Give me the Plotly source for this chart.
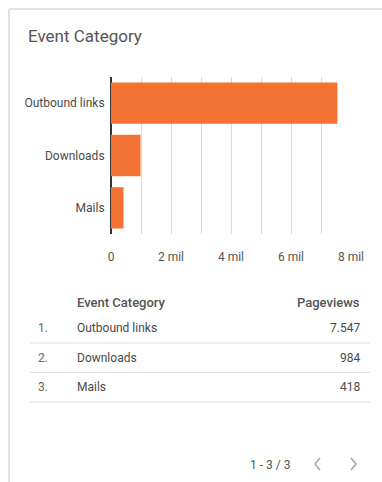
import plotly.graph_objects as go

# Event categories and their pageviews
categories = ["Outbound links", "Downloads", "Mails"]
pageviews = [7547, 984, 418]

# Axis ticks (labelled in Portuguese thousands)
tick_values = [0, 2000, 4000, 6000, 8000]
tick_labels = ["0", "2 mil", "4 mil", "6 mil", "8 mil"]
minor_values = [1000, 3000, 5000, 7000]

title_text = "Event Category"
table_headers = ["Event Category", "Pageviews"]
pager_text = "1 - 3 / 3"

W, H = 382, 482
FONT = "Roboto"
BAR = "#F37335"
TEXT = "#4a4a4a"
GREY = "#666666"
LINE = "#dedede"


def px(x):
    return x / W


def py(y):
    return 1 - y / H


fig = go.Figure(
    go.Bar(
        x=pageviews,
        y=categories,
        orientation="h",
        marker=dict(color=BAR, line=dict(width=0)),
        hoverinfo="x+y",
    )
)

annotations = [
    dict(text=title_text, x=px(26), y=py(36), xref="paper", yref="paper",
         xanchor="left", yanchor="middle", showarrow=False,
         font=dict(family=FONT, size=17, color="#555555")),
    dict(text=table_headers[0], x=px(75), y=py(302), xref="paper", yref="paper",
         xanchor="left", yanchor="middle", showarrow=False,
         font=dict(family=FONT, size=13, color="#555555", weight=500)),
    dict(text=table_headers[1], x=px(362), y=py(302), xref="paper", yref="paper",
         xanchor="right", yanchor="middle", showarrow=False,
         font=dict(family=FONT, size=13, color="#555555", weight=500)),
    dict(text=pager_text, x=px(270), y=py(465), xref="paper", yref="paper",
         xanchor="center", yanchor="middle", showarrow=False,
         font=dict(family=FONT, size=12, color="#555555")),
]

shapes = [
    # card outline (top and left edges)
    dict(type="line", xref="paper", yref="paper", x0=px(9), x1=1.0,
         y0=py(9), y1=py(9), line=dict(color="#e2e2e2", width=2)),
    dict(type="line", xref="paper", yref="paper", x0=px(9), x1=px(9),
         y0=py(9), y1=0, line=dict(color="#e2e2e2", width=2)),
    # pager chevrons
    dict(type="path", xref="paper", yref="paper",
         path=f"M {px(320)} {py(458)} L {px(315)} {py(464)} L {px(320)} {py(470)}",
         line=dict(color="#a8a8a8", width=1.6)),
    dict(type="path", xref="paper", yref="paper",
         path=f"M {px(351)} {py(458)} L {px(356)} {py(464)} L {px(351)} {py(470)}",
         line=dict(color="#a8a8a8", width=1.6)),
]

row_y0, row_step = 328, 29.5
for i, (cat, val) in enumerate(zip(categories, pageviews)):
    yc = row_y0 + i * row_step
    annotations += [
        dict(text=f"{i + 1}.", x=px(36), y=py(yc), xref="paper", yref="paper",
             xanchor="left", yanchor="middle", showarrow=False,
             font=dict(family=FONT, size=12, color=GREY)),
        dict(text=cat, x=px(75), y=py(yc), xref="paper", yref="paper",
             xanchor="left", yanchor="middle", showarrow=False,
             font=dict(family=FONT, size=12, color=TEXT)),
        dict(text=f"{val:,}".replace(",", "."), x=px(362), y=py(yc),
             xref="paper", yref="paper", xanchor="right", yanchor="middle",
             showarrow=False, font=dict(family=FONT, size=12, color=TEXT)),
    ]
    ly = yc + 15
    shapes.append(dict(type="line", xref="paper", yref="paper",
                       x0=px(30), x1=px(370), y0=py(ly), y1=py(ly),
                       line=dict(color=LINE, width=1)))

fig.update_layout(
    width=W, height=H,
    margin=dict(l=0, r=0, t=0, b=0, autoexpand=False),
    paper_bgcolor="white",
    plot_bgcolor="white",
    showlegend=False,
    bargap=0.21,
    font=dict(family=FONT, size=12, color=TEXT),
    annotations=annotations,
    shapes=shapes,
    xaxis=dict(
        domain=[px(111), px(351)],
        range=[0, 8000],
        automargin=False,
        tickmode="array",
        tickvals=tick_values,
        ticktext=tick_labels,
        showgrid=True,
        gridcolor="#dcdcdc",
        gridwidth=1,
        minor=dict(tickmode="array", tickvals=minor_values,
                   showgrid=True, gridcolor="#dcdcdc", gridwidth=1),
        zeroline=True,
        zerolinecolor="#333333",
        zerolinewidth=2,
        ticks="outside",
        ticklen=12,
        tickcolor="rgba(0,0,0,0)",
        tickfont=dict(family=FONT, size=12, color="#555555"),
        fixedrange=True,
    ),
    yaxis=dict(
        domain=[py(234), py(77)],
        autorange="reversed",
        automargin=False,
        showgrid=False,
        zeroline=False,
        ticks="outside",
        ticklen=3,
        tickcolor="rgba(0,0,0,0)",
        tickfont=dict(family=FONT, size=12, color=TEXT),
        fixedrange=True,
    ),
)

fig.write_html("out.html", config={"displayModeBar": False})
